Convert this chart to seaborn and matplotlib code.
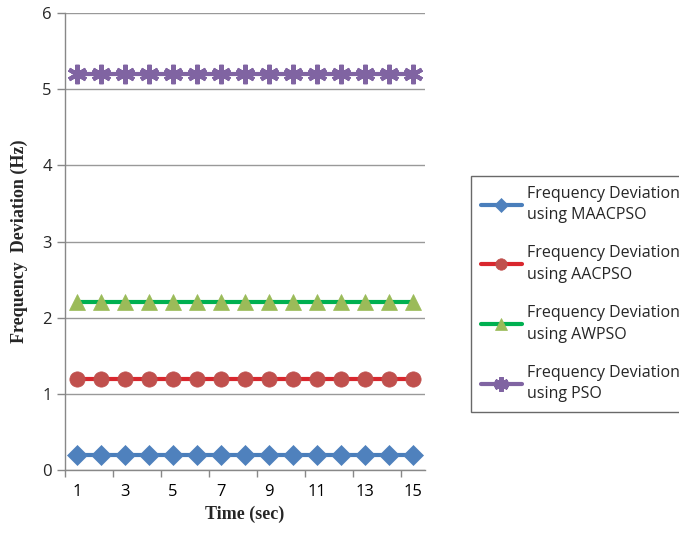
import matplotlib
matplotlib.use("Agg")
import matplotlib.pyplot as plt
import seaborn as sns
import pandas as pd
import numpy as np

time = list(range(1, 16))
maacpso = [0.2] * 15
aacpso = [1.2] * 15
awpso = [2.2] * 15
pso = [5.2] * 15
labels = ["Frequency Deviation\nusing MAACPSO", "Frequency Deviation\nusing AACPSO",
          "Frequency Deviation\nusing AWPSO", "Frequency Deviation\nusing PSO"]

sns.set_theme(style="white")
plt.rcParams['font.family'] = ['Open Sans', 'DejaVu Sans']

fig = plt.figure(figsize=(6.79, 5.38), dpi=100)
ax = fig.add_axes([65/679, 1-470/538, 360/679, 457/538])

series = [
    (maacpso, "#4A7EBB", "#4F81BD", "D", 10, labels[0]),
    (aacpso, "#D9272E", "#C0504D", "o", 11, labels[1]),
    (awpso, "#00B050", "#9BBB59", "^", 12, labels[2]),
    (pso, "#8064A2", "#8064A2", (6, 2, 0), 14, labels[3]),
]
for vals, lc, mc, mk, ms, lab in series:
    df = pd.DataFrame({"t": time, "v": vals})
    sns.lineplot(data=df, x="t", y="v", ax=ax, color=lc, linewidth=3,
                 marker=mk, markersize=ms, markerfacecolor=mc, markeredgecolor=mc,
                 markeredgewidth=3 if mk == (6, 2, 0) else 0.5, label=lab)

ax.set_xlim(0.5, 15.5)
ax.set_ylim(0, 6)
ax.set_yticks(range(0, 7))
ax.set_xticks([1, 3, 5, 7, 9, 11, 13, 15])
ax.set_xticks(np.arange(0.5, 16, 2), minor=True)
ax.tick_params(axis='x', which='major', length=0, labelsize=12, pad=10, colors='black')
ax.tick_params(axis='x', which='minor', length=5, width=1, color='#888888', direction='out', bottom=True)
ax.tick_params(axis='y', which='major', length=6, width=1, color='#888888', labelsize=12, left=True)
ax.yaxis.grid(True, color='#999999', linewidth=1)
for s in ['top', 'right']:
    ax.spines[s].set_visible(False)
for s in ['left', 'bottom']:
    ax.spines[s].set_color('#888888')
    ax.spines[s].set_linewidth(1)

ax.set_xlabel("Time (sec)", fontfamily="Liberation Serif", fontweight="bold", fontsize=13)
ax.set_ylabel("Frequency  Deviation (Hz)", fontfamily="Liberation Serif", fontweight="bold", fontsize=13, labelpad=10)

ax.get_legend().remove()
h, l = ax.get_legend_handles_labels()
leg = fig.legend(h, l, loc="upper left", bbox_to_anchor=(471/679, 1-176/538),
                 frameon=True, fontsize=11.5, handlelength=2.6, handletextpad=0.3,
                 labelspacing=1.4, borderpad=0.6, borderaxespad=0, fancybox=False,
                 markerscale=0.75)
for t in leg.get_texts():
    t.set_linespacing(1.45)
leg.get_frame().set_edgecolor('#444444')
leg.get_frame().set_linewidth(1)

fig.savefig("out.png", dpi=100)
